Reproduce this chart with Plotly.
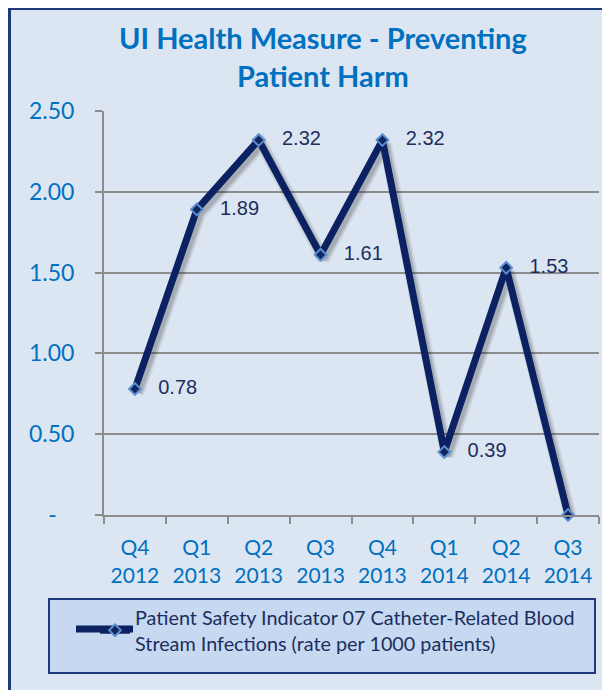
import plotly.graph_objects as go

# ---- data ----
quarters = ["Q4<br>2012", "Q1<br>2013", "Q2<br>2013", "Q3<br>2013",
            "Q4<br>2013", "Q1<br>2014", "Q2<br>2014", "Q3<br>2014"]
rates = [0.78, 1.89, 2.32, 1.61, 2.32, 0.39, 1.53, 0.0]
ytick_vals = [0, 0.5, 1.0, 1.5, 2.0, 2.5]
ytick_text = ["-\u00a0\u00a0\u00a0", "0.50", "1.00", "1.50", "2.00", "2.50"]
series_name = ("Patient Safety Indicator 07 Catheter-Related Blood<br>"
               "Stream Infections (rate per 1000 patients)")
title_text = "UI Health Measure - Preventing<br>Patient Harm"

labels = ["\u00a0\u00a0\u00a0" + f"{v:.2f}" if v else "" for v in rates]

# page has an 8px body margin; figure sized to fit the 610x690 window
OFF = 8
W, H = 602, 682
L, R, T, B = 96, 11, 103, 175
PW, PH = W - L - R, H - T - B
YMAX = 2.5
NCAT = len(quarters)

def sx(x):  # screen px -> paper x
    return (x - OFF - L) / PW

def sy(y):  # screen px -> paper y
    return (H - B - (y - OFF)) / PH

NAVY = "#0B2161"
BLUE = "#0070C0"
TXT = "#1C2E5E"
GRID = "#8C8C8C"

# shadow offset (px) applied via shifted axis ranges
DX, DY = 3, 4
cat_px = PW / NCAT
val_px = PH / YMAX

fig = go.Figure()
for w, a in [(13, 0.07), (10, 0.10), (7, 0.14)]:
    fig.add_trace(go.Scatter(
        x=quarters, y=rates, mode="lines", showlegend=False, hoverinfo="skip",
        line=dict(color=f"rgba(30,30,30,{a})", width=w),
        xaxis="x", yaxis="y",
    ))
fig.add_trace(go.Scatter(
    x=quarters, y=rates, name=series_name,
    mode="lines+markers+text",
    line=dict(color=NAVY, width=7),
    marker=dict(symbol="diamond", size=9, color="#10265E",
                line=dict(color="#5C8DD0", width=2)),
    text=labels, textposition="middle right",
    textfont=dict(family="Liberation Sans, Arial", size=20, color=TXT),
    cliponaxis=False,
    xaxis="x2", yaxis="y2",
))

shapes = [
    # outer chart frame
    dict(type="rect", xref="paper", yref="paper", layer="below",
         x0=sx(9.5), x1=sx(650), y0=sy(8.5), y1=sy(730),
         fillcolor="#DCE6F2", line=dict(color="#203A78", width=3)),
    # legend box
    dict(type="rect", xref="paper", yref="paper", layer="below",
         x0=sx(49), x1=sx(595), y0=sy(599), y1=sy(673),
         fillcolor="#C6D9F1", line=dict(color="#1F3A7A", width=2)),
    # long legend line behind the legend symbol
    dict(type="line", xref="paper", yref="paper", layer="below",
         x0=sx(76), x1=sx(133), y0=sy(629), y1=sy(629),
         line=dict(color=NAVY, width=7)),
]

annotations = [
    dict(text=title_text, xref="paper", yref="paper",
         x=sx(323), y=sy(56), xanchor="center", yanchor="middle",
         showarrow=False,
         font=dict(family="Lato", size=29, color=BLUE, weight="bold")),
]

axis_common = dict(showline=True, linecolor=GRID, linewidth=2,
                   ticks="outside", ticklen=7, tickcolor=GRID, tickwidth=2)

fig.update_layout(
    width=W, height=H,
    margin=dict(l=L, r=R, t=T, b=B, autoexpand=False),
    paper_bgcolor="white",
    plot_bgcolor="rgba(0,0,0,0)",
    shapes=shapes,
    annotations=annotations,
    showlegend=True,
    legend=dict(x=sx(95), xanchor="left", y=sy(598), yanchor="top",
                bgcolor="rgba(0,0,0,0)", borderwidth=0,
                font=dict(family="Lato", size=19.8, color=TXT)),
    # hidden axes carrying the drop shadow (shifted by DX, DY px)
    xaxis=dict(type="category", visible=False,
               range=[-0.5 - DX / cat_px, NCAT - 0.5 - DX / cat_px]),
    yaxis=dict(visible=False,
               range=[DY / val_px, YMAX + DY / val_px]),
    # visible axes
    xaxis2=dict(type="category", overlaying="x", anchor="y2",
                range=[-0.5, NCAT - 0.5], tickson="boundaries",
                showgrid=False,
                tickfont=dict(family="Lato", size=21, color=BLUE),
                ticklabelstandoff=13, **axis_common),
    yaxis2=dict(overlaying="y", anchor="x2", side="left",
                range=[0, YMAX], tickvals=ytick_vals, ticktext=ytick_text,
                showgrid=True, gridcolor=GRID, gridwidth=2, zeroline=False,
                tickfont=dict(family="Lato", size=23, color=BLUE),
                ticklabelstandoff=16, **axis_common),
)

fig.write_html("out.html")
